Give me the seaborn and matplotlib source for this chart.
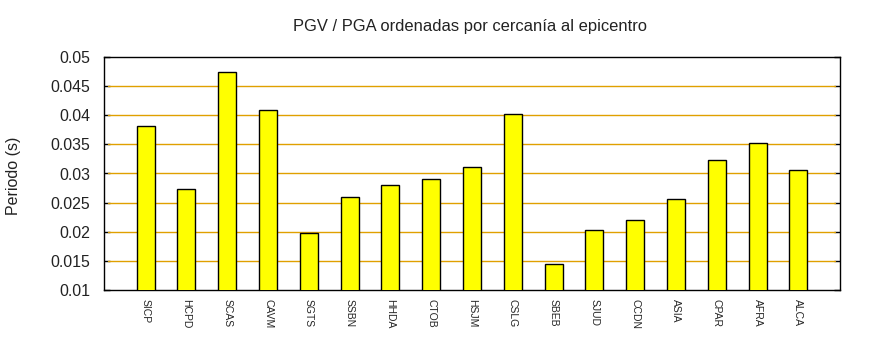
import matplotlib
matplotlib.use("Agg")
import matplotlib.pyplot as plt
import seaborn as sns
import pandas as pd

stations = ["SICP", "HCPD", "SCAS", "CAVM", "SGTS", "SSBN", "HHDA", "CTOB", "HSJM",
            "CSLG", "SBEB", "SJUD", "CCDN", "ASIA", "CPAR", "AFRA", "ALCA"]
values = [0.0381, 0.0273, 0.0475, 0.0409, 0.0197, 0.0259, 0.0280, 0.0290, 0.0311,
          0.0402, 0.0144, 0.0203, 0.0220, 0.0256, 0.0323, 0.0352, 0.0306]
yticks = [0.01, 0.015, 0.02, 0.025, 0.03, 0.035, 0.04, 0.045, 0.05]
ytick_labels = ["0.01", "0.015", "0.02", "0.025", "0.03", "0.035", "0.04", "0.045", "0.05"]

sns.set_style("white")
plt.rcParams['font.family'] = ['Liberation Sans', 'DejaVu Sans']

df = pd.DataFrame({"station": stations, "value": values})

fig = plt.figure(figsize=(8.7, 3.5), dpi=100)
ax = fig.add_axes([104/870, 1-290/350, (840-104)/870, (290-57)/350])

sns.barplot(data=df, x="station", y="value", color="#ffff00", edgecolor="black",
            linewidth=1.0, width=0.44, saturation=1, ax=ax, zorder=3)

ax.set_ylim(0.01, 0.05)
ax.set_xlim(-1.02, len(stations) - 1 + 1.02)
ax.set_yticks(yticks)
ax.set_yticklabels(ytick_labels, fontsize=11.4, color="#222222")
for y in yticks[1:-1]:
    ax.axhline(y, color="#e0a000", linewidth=1.0, zorder=1, xmin=0.005, xmax=0.993)

ax.tick_params(axis='y', direction='in', length=4, width=1, color='black',
               left=True, right=True, pad=10)
ax.tick_params(axis='x', bottom=False, pad=3)
ax.set_xticks(range(len(stations)))
ax.set_xticklabels(stations, rotation=-90, fontsize=7.5, va='top', ha='center')

for s in ax.spines.values():
    s.set_visible(True)
    s.set_color("black")
    s.set_linewidth(1.0)

ax.set_xlabel("")
ax.set_ylabel("")
fig.text(470/870, 1-26/350, "PGV / PGA ordenadas por cercanía al epicentro",
         ha='center', va='center', fontsize=11.9, color="#222222")
fig.text(14/870, 1-176/350, "Periodo (s)", rotation=90, ha='center', va='center',
         fontsize=11.5, color="#222222")

fig.savefig("out.png", dpi=100)
